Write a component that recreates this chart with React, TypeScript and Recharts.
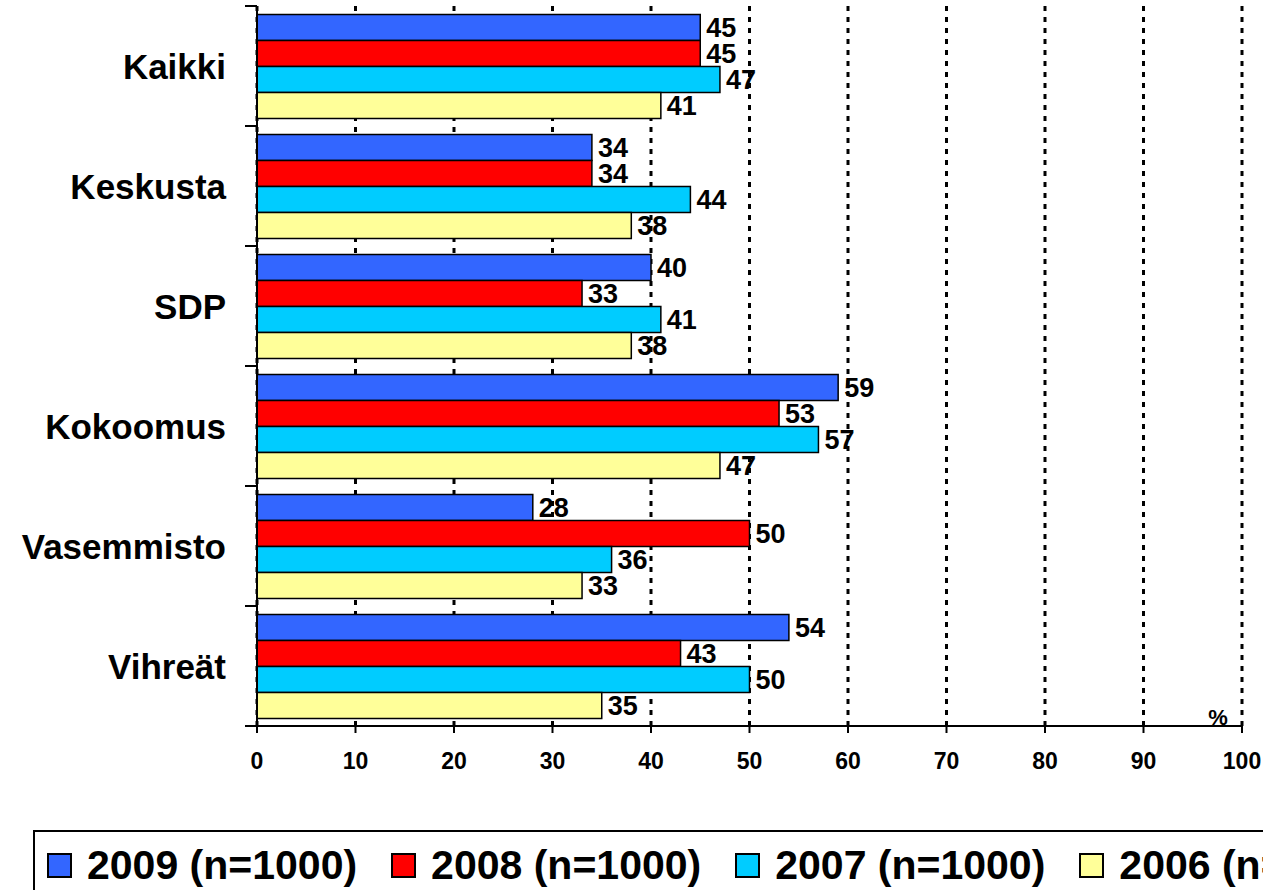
import { BarChart, Bar, XAxis, YAxis, CartesianGrid, LabelList, Label } from 'recharts';

const categories = ['Kaikki', 'Keskusta', 'SDP', 'Kokoomus', 'Vasemmisto', 'Vihreät'];
const values2009 = [45, 34, 40, 59, 28, 54];
const values2008 = [45, 34, 33, 53, 50, 43];
const values2007 = [47, 44, 41, 57, 36, 50];
const values2006 = [41, 38, 38, 47, 33, 35];
const xTicks = [0, 10, 20, 30, 40, 50, 60, 70, 80, 90, 100];

const series = [
  { key: 'y2009', name: '2009 (n=1000)', color: '#3366FF' },
  { key: 'y2008', name: '2008 (n=1000)', color: '#FF0000' },
  { key: 'y2007', name: '2007 (n=1000)', color: '#00CCFF' },
  { key: 'y2006', name: '2006 (n=1000)', color: '#FFFF99' },
];

const FONT = 'Arial, "Liberation Sans", sans-serif';

// chart geometry
const CHART_W = 1263;
const CHART_H = 800;
const MARGIN = { top: 6, right: 21, bottom: 34, left: 0 };
const X_AXIS_H = 40;
const BAND = (CHART_H - MARGIN.top - MARGIN.bottom - X_AXIS_H) / categories.length;

const data = categories.map((name, i) => ({
  name,
  y2009: values2009[i],
  y2008: values2008[i],
  y2007: values2007[i],
  y2006: values2006[i],
}));

/** Category label plus a tick mark at the band boundaries */
const CategoryTick = (props: any) => {
  const { x, y, payload, index } = props;
  return (
    <g>
      <text
        x={x - 31}
        y={y}
        textAnchor="end"
        dominantBaseline="central"
        fontFamily={FONT}
        fontWeight="bold"
        fontSize={35}
        fill="#000"
      >
        {payload.value}
      </text>
      <line x1={x - 12} x2={x} y1={y - BAND / 2} y2={y - BAND / 2} stroke="#000" strokeWidth={2} />
      {index === categories.length - 1 && (
        <line x1={x - 12} x2={x} y1={y + BAND / 2} y2={y + BAND / 2} stroke="#000" strokeWidth={2} />
      )}
    </g>
  );
};

const PercentLabel = (props: any) => {
  const vb = props.viewBox;
  if (!vb) return null;
  return (
    <text
      x={vb.x + vb.width - 24}
      y={vb.y - 1}
      textAnchor="middle"
      fontFamily={FONT}
      fontWeight="bold"
      fontSize={22}
      fill="#000"
    >
      %
    </text>
  );
};

export default function App() {
  return (
    <div
      style={{
        position: 'absolute',
        left: 0,
        top: 0,
        width: CHART_W,
        height: 890,
        overflow: 'hidden',
        background: '#fff',
        fontFamily: FONT,
      }}
    >
      <BarChart
        width={CHART_W}
        height={CHART_H}
        data={data}
        layout="vertical"
        margin={MARGIN}
        barCategoryGap={8.5}
        barGap={0}
      >
        <CartesianGrid
          horizontal={false}
          vertical
          stroke="#000"
          strokeWidth={3}
          strokeDasharray="5 6"
        />
        <XAxis
          type="number"
          domain={[0, 100]}
          ticks={xTicks}
          interval={0}
          height={X_AXIS_H}
          axisLine={{ stroke: '#000', strokeWidth: 2 }}
          tickLine={{ stroke: '#000', strokeWidth: 2 }}
          tickSize={7}
          tickMargin={20}
          tick={{ fontSize: 23, fontWeight: 'bold', fill: '#000', fontFamily: FONT }}
        >
          <Label content={PercentLabel} />
        </XAxis>
        <XAxis
          xAxisId="top"
          orientation="top"
          type="number"
          domain={[0, 100]}
          height={0}
          tick={false}
          tickLine={false}
          axisLine={{ stroke: '#000', strokeWidth: 2 }}
        />
        <YAxis
          type="category"
          dataKey="name"
          width={257}
          tickSize={0}
          tickMargin={0}
          tickLine={false}
          interval={0}
          axisLine={{ stroke: '#000', strokeWidth: 2 }}
          tick={<CategoryTick />}
        />
        {series.map((s) => (
          <Bar
            key={s.key}
            dataKey={s.key}
            name={s.name}
            fill={s.color}
            stroke="#000"
            strokeWidth={1.5}
            isAnimationActive={false}
          >
            <LabelList
              dataKey={s.key}
              position="right"
              offset={6}
              fill="#000"
              fontFamily={FONT}
              fontWeight="bold"
              fontSize={27}
            />
          </Bar>
        ))}
      </BarChart>

      {/* Legend box, cut off at the right edge like the original */}
      <div
        style={{
          position: 'absolute',
          left: 33,
          top: 830,
          width: 1400,
          height: 100,
          border: '2px solid #000',
          boxSizing: 'border-box',
          display: 'flex',
          alignItems: 'flex-start',
          paddingTop: 21,
          paddingLeft: 12,
          whiteSpace: 'nowrap',
        }}
      >
        {series.map((s) => (
          <div key={s.key} style={{ display: 'flex', alignItems: 'center', marginRight: 34 }}>
            <span
              style={{
                display: 'inline-block',
                width: 25,
                height: 25,
                boxSizing: 'border-box',
                background: s.color,
                border: '2px solid #000',
                marginRight: 15,
              }}
            />
            <span style={{ fontSize: 41, fontWeight: 'bold', lineHeight: '25px', color: '#000' }}>
              {s.name}
            </span>
          </div>
        ))}
      </div>
    </div>
  );
}
